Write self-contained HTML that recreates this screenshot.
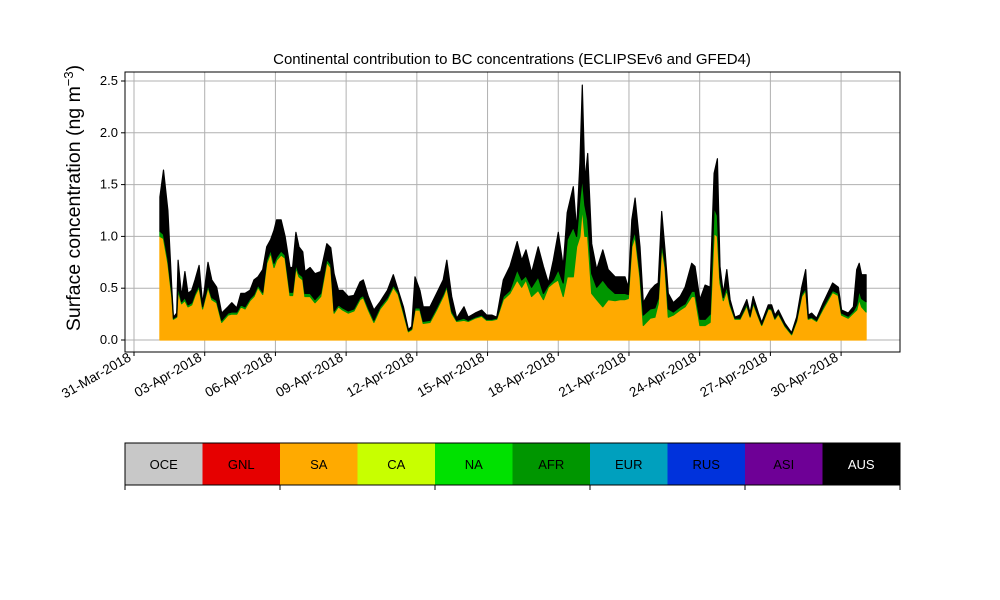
<!DOCTYPE html>
<html><head><meta charset="utf-8">
<style>
html,body{margin:0;padding:0;background:#fff;}
svg{display:block;font-family:"Liberation Sans","DejaVu Sans",sans-serif;}
</style></head>
<body>
<svg id="chart" width="1000" height="600" viewBox="0 0 1000 600">
<rect width="1000" height="600" fill="#fff"/>
<text x="512" y="64" font-size="15" text-anchor="middle">Continental contribution to BC concentrations (ECLIPSEv6 and GFED4)</text>
<text transform="translate(80,198) rotate(-90)" font-size="19.5" text-anchor="middle">Surface concentration (ng m<tspan baseline-shift="super" font-size="13">−3</tspan>)</text>
<g id="grid"></g>
<g id="areas"></g>
<rect x="125" y="72" width="775" height="280" fill="none" stroke="#000" stroke-width="1"/>
<g id="axes"></g>
<g id="colorbar"></g>
</svg>
<script>
const days = [1.10,1.25,1.44,1.61,1.67,1.81,1.87,2.02,2.16,2.29,2.45,2.59,2.76,2.91,3.14,3.30,3.51,3.72,3.99,4.15,4.36,4.53,4.71,4.92,5.09,5.26,5.46,5.63,5.80,5.94,6.05,6.24,6.41,6.62,6.73,6.87,7.00,7.16,7.25,7.47,7.68,7.92,8.18,8.35,8.49,8.67,8.85,9.09,9.33,9.59,9.73,9.94,10.18,10.44,10.75,11.00,11.21,11.43,11.64,11.78,11.92,12.13,12.27,12.56,12.84,13.12,13.27,13.48,13.69,14.00,14.18,14.47,14.75,14.96,15.18,15.39,15.67,15.95,16.26,16.45,16.63,16.87,17.15,17.37,17.58,17.79,18.00,18.21,18.38,18.64,18.78,18.92,19.02,19.13,19.25,19.42,19.63,19.89,20.12,20.41,20.62,20.83,20.97,21.12,21.26,21.47,21.61,21.90,22.10,22.24,22.39,22.53,22.67,22.88,23.17,23.38,23.66,23.80,24.01,24.23,24.44,24.61,24.75,24.86,25.00,25.15,25.29,25.50,25.71,26.00,26.14,26.27,26.49,26.63,26.91,27.05,27.19,27.34,27.62,27.90,28.11,28.33,28.50,28.61,28.75,28.96,29.24,29.64,29.88,30.02,30.30,30.52,30.66,30.77,30.87,31.06];
const total = [1.38,1.64,1.25,0.48,0.22,0.26,0.77,0.42,0.66,0.45,0.48,0.58,0.72,0.35,0.75,0.58,0.51,0.26,0.32,0.36,0.31,0.45,0.45,0.48,0.58,0.61,0.68,0.9,0.97,1.06,1.16,1.16,1.0,0.7,0.7,1.04,0.9,0.85,0.66,0.7,0.64,0.66,0.93,0.89,0.64,0.48,0.48,0.42,0.43,0.56,0.58,0.42,0.29,0.37,0.48,0.63,0.48,0.32,0.1,0.13,0.61,0.48,0.32,0.32,0.45,0.58,0.77,0.42,0.21,0.32,0.22,0.26,0.29,0.24,0.24,0.22,0.58,0.71,0.95,0.77,0.87,0.65,0.9,0.71,0.55,0.77,1.04,0.71,1.23,1.48,1.06,1.71,2.46,1.54,1.8,0.93,0.68,0.87,0.68,0.61,0.61,0.61,0.51,1.16,1.37,0.9,0.36,0.48,0.53,0.55,1.24,0.87,0.45,0.36,0.42,0.51,0.74,0.71,0.39,0.53,0.51,1.61,1.75,0.71,0.45,0.68,0.39,0.22,0.24,0.39,0.26,0.42,0.26,0.17,0.34,0.34,0.24,0.29,0.16,0.07,0.22,0.51,0.68,0.24,0.26,0.21,0.36,0.55,0.51,0.29,0.26,0.32,0.68,0.74,0.63,0.63];
const sa = [1.0,0.98,0.74,0.41,0.2,0.22,0.48,0.35,0.38,0.32,0.34,0.43,0.51,0.3,0.51,0.39,0.36,0.17,0.24,0.25,0.25,0.32,0.3,0.38,0.42,0.51,0.44,0.74,0.84,0.7,0.77,0.82,0.79,0.43,0.43,0.7,0.61,0.58,0.42,0.42,0.36,0.42,0.75,0.7,0.26,0.32,0.29,0.26,0.28,0.39,0.41,0.29,0.17,0.3,0.39,0.51,0.44,0.26,0.08,0.1,0.29,0.29,0.16,0.17,0.29,0.42,0.51,0.26,0.18,0.19,0.18,0.21,0.23,0.19,0.19,0.2,0.39,0.45,0.58,0.51,0.58,0.42,0.48,0.39,0.51,0.55,0.58,0.42,0.61,0.61,0.9,1.0,1.28,1.0,1.0,0.45,0.39,0.32,0.39,0.38,0.39,0.39,0.4,0.9,1.0,0.6,0.14,0.21,0.22,0.35,0.9,0.7,0.22,0.24,0.29,0.32,0.42,0.42,0.14,0.14,0.17,1.03,1.0,0.55,0.38,0.48,0.33,0.2,0.2,0.33,0.22,0.35,0.22,0.14,0.3,0.29,0.2,0.25,0.13,0.05,0.18,0.42,0.48,0.2,0.21,0.18,0.3,0.46,0.43,0.24,0.21,0.26,0.29,0.39,0.32,0.27];
const greenTop = [1.05,1.02,0.78,0.44,0.21,0.23,0.52,0.37,0.41,0.34,0.36,0.45,0.53,0.32,0.53,0.41,0.38,0.19,0.26,0.27,0.27,0.34,0.32,0.4,0.44,0.53,0.46,0.77,0.87,0.74,0.8,0.86,0.82,0.46,0.46,0.73,0.64,0.61,0.45,0.45,0.39,0.45,0.78,0.73,0.28,0.34,0.31,0.28,0.3,0.41,0.43,0.31,0.19,0.32,0.41,0.53,0.46,0.28,0.09,0.11,0.31,0.31,0.18,0.19,0.31,0.44,0.53,0.28,0.19,0.21,0.19,0.22,0.24,0.2,0.2,0.21,0.42,0.48,0.68,0.58,0.62,0.51,0.61,0.45,0.53,0.58,0.68,0.55,0.97,1.09,1.0,1.36,1.57,1.3,1.16,0.64,0.51,0.58,0.51,0.45,0.45,0.45,0.44,0.95,1.05,0.65,0.24,0.3,0.31,0.4,0.95,0.75,0.3,0.27,0.32,0.35,0.47,0.47,0.2,0.2,0.25,1.28,1.2,0.6,0.41,0.52,0.35,0.21,0.21,0.35,0.23,0.37,0.23,0.15,0.31,0.3,0.21,0.26,0.14,0.06,0.19,0.44,0.5,0.21,0.22,0.19,0.32,0.48,0.45,0.26,0.23,0.28,0.34,0.48,0.4,0.37];
const yTicks = [0.0,0.5,1.0,1.5,2.0,2.5];
const xTickDays = [0,3,6,9,12,15,18,21,24,27,30];
const xTickLabels = ["31-Mar-2018","03-Apr-2018","06-Apr-2018","09-Apr-2018","12-Apr-2018","15-Apr-2018","18-Apr-2018","21-Apr-2018","24-Apr-2018","27-Apr-2018","30-Apr-2018"];
const regions = ["OCE","GNL","SA","CA","NA","AFR","EUR","RUS","ASI","AUS"];
const regionColors = ["#c8c8c8","#e60000","#ffaa00","#c8ff00","#00e100","#009600","#00a0be","#0032dc","#6e0096","#000000"];

const NS="http://www.w3.org/2000/svg";
const X0=134, PXD=23.57, Y0=340, PXU=103.6;
const xs = d => X0 + d*PXD;
const ys = v => Y0 - v*PXU;
function mk(tag, attrs, parent){const e=document.createElementNS(NS,tag);for(const k in attrs)e.setAttribute(k,attrs[k]);parent.appendChild(e);return e;}

const grid=document.getElementById('grid'), axes=document.getElementById('axes'), areas=document.getElementById('areas'), cb=document.getElementById('colorbar');
yTicks.forEach(v=>{
  const l=mk('line',{x1:125,x2:900,y1:ys(v),y2:ys(v),stroke:'#b0b0b0','stroke-width':1},grid);
  
  
  mk('line',{x1:121,x2:125,y1:ys(v),y2:ys(v),stroke:'#000'},axes);
  const t=mk('text',{x:118,y:ys(v)+4,'font-size':13,'text-anchor':'end'},axes);
  t.textContent=v.toFixed(1);
  
  
});
xTickDays.forEach((d,i)=>{
  const x=xs(d);
  const l=mk('line',{x1:x,x2:x,y1:72,y2:352,stroke:'#b0b0b0','stroke-width':1},grid);
  
  
  mk('line',{x1:x,x2:x,y1:352,y2:356,stroke:'#000'},axes);
  const t=mk('text',{transform:`translate(${x-2},${360}) rotate(-30)`,'font-size':13.5,'text-anchor':'end'},axes);
  t.textContent=xTickLabels[i];
  
  
});
const layers=[
  {name:'sa-area',lo:days.map(()=>0),hi:sa,color:'#ffaa00'},
  {name:'afr-area',lo:sa,hi:greenTop,color:'#009600'},
  {name:'aus-area',lo:greenTop,hi:total,color:'#000000'}
];
layers.forEach(L=>{
  let d='';
  days.forEach((t,i)=>{d+=(i?'L':'M')+xs(t).toFixed(1)+','+ys(L.hi[i]).toFixed(1);});
  for(let i=days.length-1;i>=0;i--){d+='L'+xs(days[i]).toFixed(1)+','+ys(L.lo[i]).toFixed(1);}
  d+='Z';
  const p=mk('path',{d:d,fill:L.color,stroke:L.color,'stroke-width':1.2,'stroke-linejoin':'round'},areas);
  
  
});
const cbX=125, cbW=77.5, cbY=443, cbH=42;
regions.forEach((r,i)=>{
  const rc=mk('rect',{x:cbX+i*cbW,y:cbY,width:cbW+0.5,height:cbH,fill:regionColors[i]},cb);
  
  
  const t=mk('text',{x:cbX+i*cbW+cbW/2,y:cbY+26,'font-size':13,'text-anchor':'middle',fill:r==='AUS'?'#fff':'#000'},cb);
  t.textContent=r;
  
  
});
mk('rect',{x:125,y:443,width:775,height:42,fill:'none',stroke:'#000','stroke-width':1},cb);
for(let i=0;i<=5;i++){mk('line',{x1:125+i*155,x2:125+i*155,y1:485,y2:490,stroke:'#000'},cb);}
</script>
</body></html>
